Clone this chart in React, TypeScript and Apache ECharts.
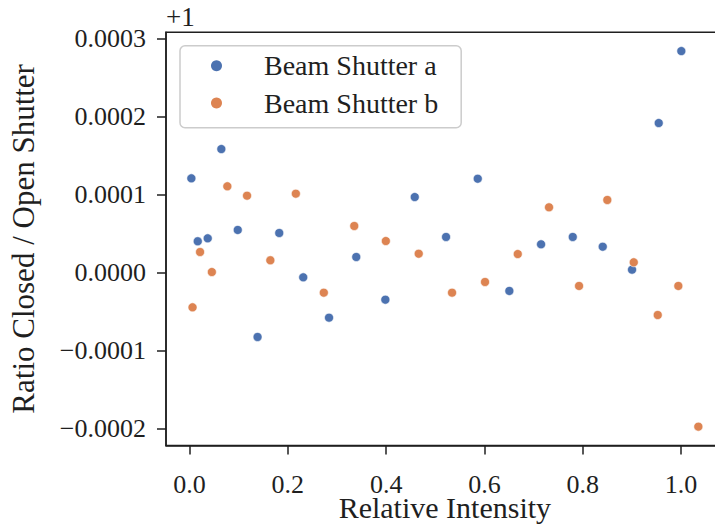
import React, { useEffect, useRef } from "react";
import * as echarts from "echarts";

const seriesNames = ["Beam Shutter a", "Beam Shutter b"];
const seriesColors = ["#4C72B0", "#DD8452"];

const shutterAX = [0.0037, 0.0167, 0.037, 0.0647, 0.0981, 0.1384, 0.1825, 0.2313, 0.2838, 0.3392, 0.3984, 0.4582, 0.5219, 0.5864, 0.6507, 0.7152, 0.7797, 0.8407, 0.9003, 0.9546, 1.0006];
const shutterAY = [0.0001209, 0.0000401, 0.0000439, 0.0001585, 0.0000546, -0.0000828, 0.0000507, -0.0000062, -0.000058, 0.0000199, -0.0000349, 0.0000969, 0.0000456, 0.0001204, -0.0000237, 0.0000362, 0.0000456, 0.0000331, 0.0000036, 0.0001919, 0.0002843];

const shutterBX = [0.0061, 0.0214, 0.0454, 0.0769, 0.117, 0.1644, 0.2163, 0.2732, 0.3351, 0.3994, 0.4663, 0.5341, 0.6012, 0.6678, 0.7314, 0.7925, 0.85, 0.9038, 0.9526, 0.9945, 1.0352];
const shutterBY = [-0.0000447, 0.0000263, 0.0000006, 0.0001107, 0.0000986, 0.0000157, 0.0001012, -0.0000259, 0.0000597, 0.0000404, 0.0000241, -0.0000259, -0.0000122, 0.0000237, 0.0000837, -0.0000173, 0.0000931, 0.0000131, -0.0000546, -0.0000173, -0.0001979];

const xTicks = [0, 0.2, 0.4, 0.6, 0.8, 1.0];
const yTicks = [-0.0002, -0.0001, 0, 0.0001, 0.0002, 0.0003];
const xRange = [-0.0479, 1.0868];
const yRange = [-0.000222, 0.0003084];

const offsetText = "+1";
const xLabel = "Relative Intensity";
const yLabel = "Ratio Closed / Open Shutter";

const FONT = '"Liberation Serif", "Times New Roman", serif';
const INK = "#1f1f1f";

export default function App() {
  const ref = useRef<HTMLDivElement>(null);
  useEffect(() => {
    document.body.style.margin = "0";
    if (!ref.current) return;
    const chart = echarts.init(ref.current, undefined, { renderer: "svg" });
    const fmtY = (v: number) => {
      const s = Math.abs(v).toFixed(4);
      return (v < -1e-12 ? "\u2212" : "") + s;
    };
    const axisLine = { show: true, onZero: false, lineStyle: { color: INK, width: 1.5 } };
    chart.setOption({
      animation: false,
      backgroundColor: "#ffffff",
      textStyle: { fontFamily: FONT, color: INK },
      grid: {
        left: 166,
        top: 32.3,
        width: 557.7,
        height: 413.1,
        show: true,
        borderColor: INK,
        borderWidth: 1.5,
        backgroundColor: "transparent",
        containLabel: false,
        outerBoundsMode: "none",
      },
      xAxis: {
        type: "value",
        min: xRange[0],
        max: xRange[1],
        axisLine,
        splitLine: { show: false },
        axisTick: { show: true, length: 9, lineStyle: { color: INK, width: 1.5 }, customValues: xTicks },
        axisLabel: {
          customValues: xTicks,
          formatter: (v: number) => v.toFixed(1),
          fontFamily: FONT,
          fontSize: 26,
          lineHeight: 20,
          color: INK,
          margin: 29,
        },
        name: xLabel,
        nameLocation: "middle",
        nameGap: 51,
        nameMoveOverlap: false,
        nameTextStyle: { fontFamily: FONT, fontSize: 30, lineHeight: 22, color: INK },
      },
      yAxis: {
        type: "value",
        min: yRange[0],
        max: yRange[1],
        axisLine,
        splitLine: { show: false },
        axisTick: { show: true, length: 9, lineStyle: { color: INK, width: 1.5 }, customValues: yTicks },
        axisLabel: {
          customValues: yTicks,
          formatter: fmtY,
          fontFamily: FONT,
          fontSize: 26,
          color: INK,
          margin: 20,
        },
        name: yLabel,
        nameLocation: "middle",
        nameGap: 127,
        nameMoveOverlap: false,
        nameTextStyle: { fontFamily: FONT, fontSize: 31, color: INK },
      },
      legend: {
        orient: "vertical",
        left: 180,
        top: 45.7,
        padding: [6, 23, 10.7, 31],
        itemWidth: 11,
        itemHeight: 11,
        itemGap: 9.3,
        icon: "circle",
        borderColor: "#cccccc",
        borderWidth: 1.5,
        borderRadius: 5,
        backgroundColor: "rgba(255,255,255,0.8)",
        itemStyle: { borderWidth: 0, opacity: 1 },
        textStyle: { fontFamily: FONT, fontSize: 28, color: INK, lineHeight: 28, padding: [0, 0, 0, 37] },
        data: seriesNames,
      },
      graphic: [
        {
          type: "text",
          x: 166,
          y: 17,
          style: { text: offsetText, font: `27px ${FONT}`, fill: INK, align: "left", verticalAlign: "middle" },
        },
      ],
      series: [
        {
          name: seriesNames[0],
          type: "scatter",
          symbolSize: 9,
          itemStyle: { color: seriesColors[0], borderColor: "#ffffff", borderWidth: 0.6, opacity: 1 },
          data: shutterAX.map((x, i) => [x, shutterAY[i]]),
        },
        {
          name: seriesNames[1],
          type: "scatter",
          symbolSize: 9,
          itemStyle: { color: seriesColors[1], borderColor: "#ffffff", borderWidth: 0.6, opacity: 1 },
          data: shutterBX.map((x, i) => [x, shutterBY[i]]),
        },
      ],
    });
    return () => chart.dispose();
  }, []);
  return <div ref={ref} style={{ width: 715, height: 524, position: "absolute", left: 0, top: 0 }} />;
}
